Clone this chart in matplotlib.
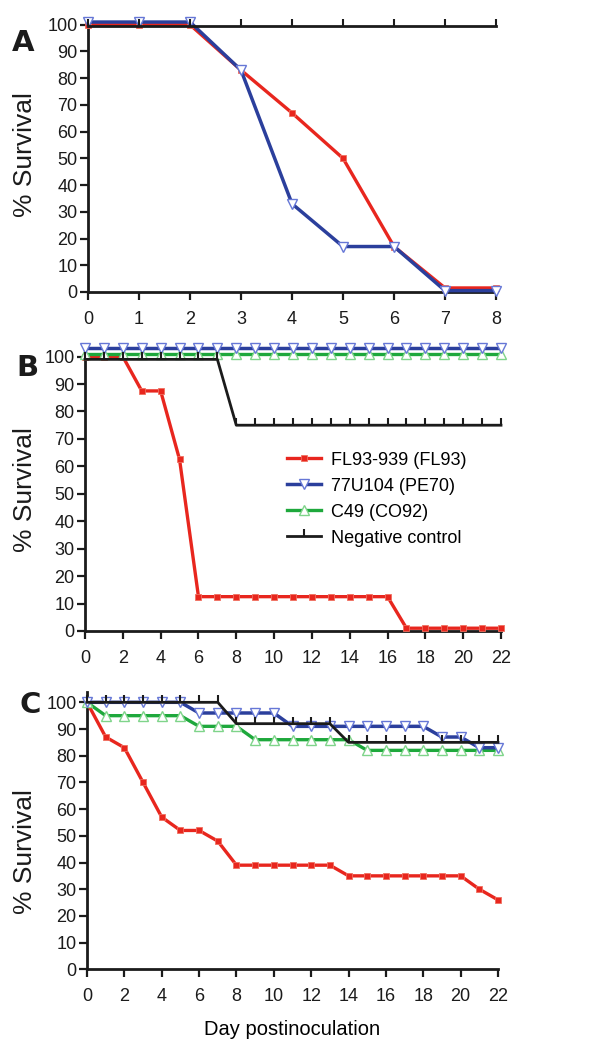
import matplotlib
matplotlib.use("Agg")
from matplotlib import pyplot as plt

plt.rcParams['font.family'] = ['Liberation Sans', 'DejaVu Sans']

# panel A (days 0-8)
days_a = [0, 1, 2, 3, 4, 5, 6, 7, 8]
red_a = [100, 100, 100, 83, 67, 50, 17, 1.5, 1.5]
blue_a = [101, 101, 101, 83, 33, 17, 17, 0.5, 0.5]
black_a = [99.5, 99.5, 99.5, 99.5, 99.5, 99.5, 99.5, 99.5, 99.5]

# panel B (days 0-22)
days_b = list(range(23))
red_b = [100, 100, 100, 87.5, 87.5, 62.5] + [12.5] * 11 + [1] * 6
blue_b = [103] * 23
green_b = [101] * 23
black_b = [99] * 8 + [75] * 15

# panel C (days 0-22)
days_c = list(range(23))
red_c = [100, 87, 83, 70, 57, 52, 52, 48, 39, 39, 39, 39, 39, 39,
         35, 35, 35, 35, 35, 35, 35, 30, 26]
blue_c = [100, 100, 100, 100, 100, 100, 96, 96, 96, 96, 96, 91, 91, 91,
          91, 91, 91, 91, 91, 87, 87, 83, 83]
green_c = [100, 95, 95, 95, 95, 95, 91, 91, 91, 86, 86, 86, 86, 86,
           86, 82, 82, 82, 82, 82, 82, 82, 82]
black_c = [100] * 8 + [92] * 6 + [85] * 9

labels = ['FL93-939 (FL93)', '77U104 (PE70)', 'C49 (CO92)', 'Negative control']

RED = '#e8261e'
BLUE = '#2b3f9c'
GREEN = '#1ea83c'
BLACK = '#1b1b1b'


def red_line(ax, x, y):
    return ax.plot(x, y, color=RED, lw=2.4, marker='s', ms=4.5, mfc=RED,
                   mec='#f07060', mew=0.6, clip_on=False, zorder=3)[0]


def blue_line(ax, x, y):
    return ax.plot(x, y, color=BLUE, lw=2.5, marker='v', ms=6.5, mfc='white',
                   mec='#6677d6', mew=1.0, clip_on=False, zorder=4)[0]


def green_line(ax, x, y):
    return ax.plot(x, y, color=GREEN, lw=2.4, marker='^', ms=6.5, mfc='white',
                   mec='#7fd48a', mew=1.0, clip_on=False, zorder=3)[0]


def black_line(ax, x, y):
    return ax.plot(x, y, color=BLACK, lw=2.0, marker=2, ms=5, mew=1.5,
                   clip_on=False, zorder=5)[0]


def style(ax, xmax, step, ytop):
    ax.set_xlim(0, xmax)
    ax.set_ylim(0, ytop)
    ax.set_xticks(range(0, xmax + 1, step))
    ax.set_yticks(range(0, 101, 10))
    for s in ['top', 'right']:
        ax.spines[s].set_visible(False)
    for s in ['left', 'bottom']:
        ax.spines[s].set_linewidth(2.0)
        ax.spines[s].set_color(BLACK)
    ax.tick_params(direction='out', length=6, width=1.6, labelsize=13,
                   colors=BLACK)
    ax.tick_params(axis='x', pad=7.5)
    ax.tick_params(axis='y', pad=1.5)


fig = plt.figure(figsize=(6, 10.59), dpi=100)

ax_a = fig.add_axes([0.1467, 0.7243, 0.68, 0.2574])
red_line(ax_a, days_a, red_a)
blue_line(ax_a, days_a, blue_a)
black_line(ax_a, days_a, black_a)
style(ax_a, 8, 1, 102)

ax_b = fig.add_axes([0.1417, 0.4042, 0.6933, 0.2707])
h1 = red_line(ax_b, days_b, red_b)
h3 = green_line(ax_b, days_b, green_b)
h2 = blue_line(ax_b, days_b, blue_b)
h4 = black_line(ax_b, days_b, black_b)
style(ax_b, 22, 2, 104.5)
fig.legend([h1, h2, h3, h4], labels, loc='upper left',
           bbox_to_anchor=(0.478, 0.5735), bbox_transform=fig.transFigure,
           frameon=False, fontsize=13, handlelength=1.9, handletextpad=0.55,
           labelspacing=0.5, borderpad=0, borderaxespad=0)

ax_c = fig.add_axes([0.145, 0.0847, 0.685, 0.2622])
red_line(ax_c, days_c, red_c)
green_line(ax_c, days_c, green_c)
blue_line(ax_c, days_c, blue_c)
black_line(ax_c, days_c, black_c)
style(ax_c, 22, 2, 104)
ax_c.set_xlabel('Day postinoculation', fontsize=14.5, labelpad=11)

# y labels and panel letters
for yc in [155, 490, 852]:
    fig.text(25 / 600, 1 - yc / 1059, '% Survival', rotation=90, fontsize=19,
             ha='center', va='center', color=BLACK)
for letter, xp, yp in [('A', 23, 43), ('B', 27, 368), ('C', 30, 705)]:
    fig.text(xp / 600, 1 - yp / 1059, letter, fontsize=21, fontweight='bold',
             family='DejaVu Sans', ha='center', va='center', color=BLACK)

fig.savefig('out.png', dpi=100)
